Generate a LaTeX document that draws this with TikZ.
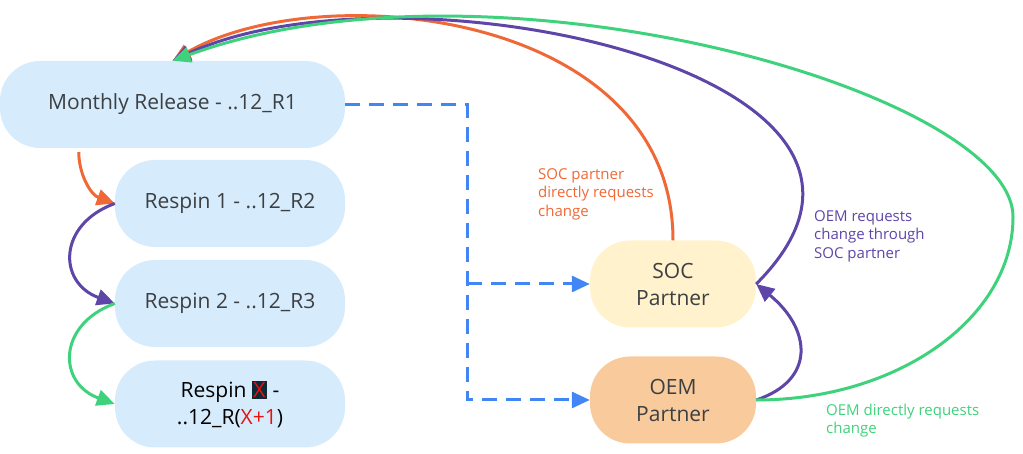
\documentclass[tikz,border=0pt]{standalone}
\usepackage{fontspec}
\setmainfont{Open Sans}
\usetikzlibrary{arrows.meta}

\definecolor{relblue}{HTML}{D6EBFC}
\definecolor{socyellow}{HTML}{FFF2CC}
\definecolor{oemorange}{HTML}{F9CB9C}
\definecolor{txtgray}{HTML}{3C4043}
\definecolor{orangeline}{HTML}{F06836}
\definecolor{purpleline}{HTML}{5E45A8}
\definecolor{greenline}{HTML}{3FD27C}
\definecolor{blueline}{HTML}{4285F4}
\definecolor{xred}{HTML}{E8110F}
\definecolor{xnavy}{HTML}{0E2A36}

\newcommand\hlx[1]{{\setlength\fboxsep{1.5pt}\colorbox{xnavy}{\textcolor{xred}{#1}}}}

\begin{document}
\begin{tikzpicture}[x=1pt,y=1pt,
  box/.style={rounded corners=40pt,minimum height=87pt,inner sep=0pt,align=center,
    font=\fontsize{21}{27}\selectfont,text=txtgray},
  lbl/.style={anchor=west,align=left,inner sep=0pt,font=\fontsize{15}{18.5}\selectfont},
  link/.style={line width=3pt,-{Triangle[length=18pt,width=16pt]}},
  blink/.style={blueline,line width=3pt,dash pattern=on 15pt off 9pt,-{Triangle[length=18pt,width=16pt]}}]
\useasboundingbox (0,0) rectangle (1023,454);

\node[box,fill=relblue,minimum width=345pt] (rel) at (172.5,349.5) {Monthly Release - ..12\_R1};
\node[box,fill=relblue,minimum width=230pt] (r1) at (230,250.5) {Respin 1 - ..12\_R2};
\node[box,fill=relblue,minimum width=230pt] (r2) at (230,150.5) {Respin 2 - ..12\_R3};
\node[box,fill=relblue,minimum width=230pt,text=black] (rx) at (230,50) {Respin \hlx{X} -\\..12\_R(\textcolor{xred}{X+1})};
\node[box,fill=socyellow,minimum width=166pt] (soc) at (673,170) {SOC\\Partner};
\node[box,fill=oemorange,minimum width=166pt] (oem) at (673,54) {OEM\\Partner};

\coordinate (split) at (467,170);
\coordinate (gturn) at (1013,237);

\draw[blink] (rel.east) -| (split) |- (oem.west);
\draw[blink] (split) -- (soc.west);

\draw[link,orangeline,shorten <=4pt] (rel.205) to[out=-90,in=160] (r1.west);
\draw[link,purpleline] (r1.west) to[out=200,in=160,looseness=1.56] (r2.west);
\draw[link,greenline] (r2.west) to[out=200,in=160,looseness=1.56] (rx.west);

\draw[link,purpleline] (oem.east) .. controls +(60,20) and +(55,-45) .. (soc.east);
\draw[link,orangeline] (soc.north) .. controls +(90:230) and +(30:170) .. (rel.north);
\draw[link,purpleline] (soc.east) .. controls +(45:300) and +(25:250) .. (rel.north);
\draw[link,greenline] (oem.east) .. controls +(142,0) and +(0,-101) .. (gturn)
  .. controls +(0,125) and +(20:340) .. (rel.north);

\node[lbl,text=orangeline] (soclbl) at (538,260) {SOC partner\\directly requests\\change};
\node[lbl,text=purpleline] (viasoc) at (814,218) {OEM requests\\change through\\SOC partner};
\node[lbl,text=greenline] (oemlbl) at (826,33.5) {OEM directly requests\\change};
\end{tikzpicture}
\end{document}
